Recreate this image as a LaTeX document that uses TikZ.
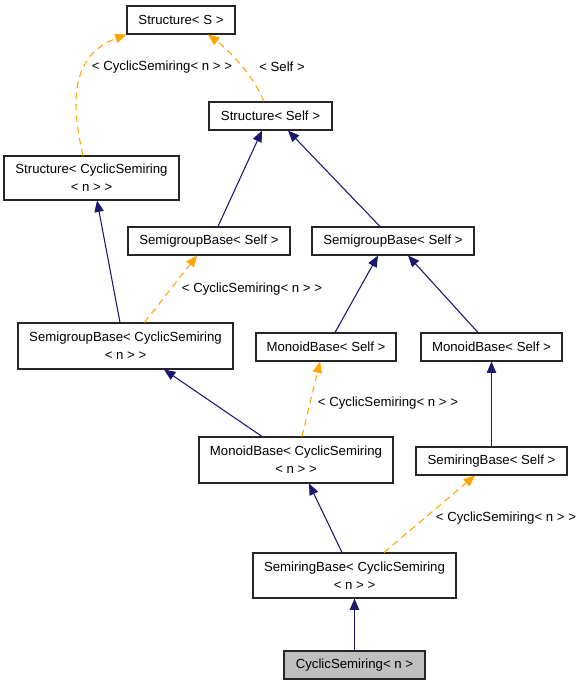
\documentclass[tikz,border=0pt]{standalone}
\usepackage{fontspec}
\newfontfamily\dox{Liberation Sans}
\usetikzlibrary{arrows.meta,calc}
\definecolor{edgeblue}{HTML}{191970}
\definecolor{edgeorange}{HTML}{FFA500}
\definecolor{leafgray}{HTML}{BFBFBF}
\tikzset{
  box/.style={draw=black!85, line width=0.8pt, fill=white, inner sep=0pt, align=center,
    font=\dox\fontsize{9.9}{13.5}\selectfont},
  lbl/.style={inner sep=0pt, font=\dox\fontsize{9.9}{13.5}\selectfont},
  inherit/.style={draw=edgeblue, line width=0.8pt, -{Triangle[length=8.5pt,width=7pt]}},
  templ/.style={draw=edgeorange, line width=0.8pt, dash pattern=on 5pt off 3.5pt,
    -{Triangle[length=8.5pt,width=7pt,fill=edgeorange]}}
}
\begin{document}
\begin{tikzpicture}[x=0.75pt,y=-0.75pt]
\fill[white] (0,0) rectangle (584,685);
\useasboundingbox (0,0) rectangle (584,685);
% nodes
\node[box, minimum width={108*0.75pt}, minimum height={28*0.75pt}] (sS) at (181,20) {Structure< S >};
\node[box, minimum width={123*0.75pt}, minimum height={28*0.75pt}] (sSelf) at (270.5,116) {Structure< Self >};
\node[box, minimum width={175*0.75pt}, minimum height={44*0.75pt}] (sCS) at (91.5,178) {Structure< CyclicSemiring\\< n > >};
\node[box, minimum width={162*0.75pt}, minimum height={28*0.75pt}] (sgL) at (209,241) {SemigroupBase< Self >};
\node[box, minimum width={162*0.75pt}, minimum height={28*0.75pt}] (sgR) at (393,241) {SemigroupBase< Self >};
\node[box, minimum width={215*0.75pt}, minimum height={46*0.75pt}] (sgCS) at (125.5,346) {SemigroupBase< CyclicSemiring\\< n > >};
\node[box, minimum width={140*0.75pt}, minimum height={28*0.75pt}] (mbM) at (326,347) {MonoidBase< Self >};
\node[box, minimum width={141*0.75pt}, minimum height={28*0.75pt}] (mbR) at (491.5,347) {MonoidBase< Self >};
\node[box, minimum width={194*0.75pt}, minimum height={46*0.75pt}] (mbCS) at (296,460) {MonoidBase< CyclicSemiring\\< n > >};
\node[box, minimum width={151*0.75pt}, minimum height={28*0.75pt}] (srSelf) at (491.5,461) {SemiringBase< Self >};
\node[box, minimum width={203*0.75pt}, minimum height={45*0.75pt}] (srCS) at (354.5,575.5) {SemiringBase< CyclicSemiring\\< n > >};
\node[box, fill=leafgray, minimum width={141*0.75pt}, minimum height={28*0.75pt}] (cs) at (354.5,665) {CyclicSemiring< n >};
% edge labels
\node[lbl] (l1) at (162,67) {< CyclicSemiring< n > >};
\node[lbl] (l2) at (282,67) {< Self >};
\node[lbl] (l3) at (252,289) {< CyclicSemiring< n > >};
\node[lbl] (l4) at (388,403) {< CyclicSemiring< n > >};
\node[lbl] (l5) at (506,518) {< CyclicSemiring< n > >};
% template edges
\draw[templ] ($(sCS.north)+(-8.5,0)$) .. controls (70,100) and (72,55) .. (sS.south west);
\draw[templ] ($(sSelf.north)+(-6.5,0)$) .. controls (255,80) and (235,55) .. ($(sS.south)+(27,0)$);
\draw[templ] ($(sgCS.north)+(19,0)$) -- ($(sgL.south)+(-12,0)$);
\draw[templ] ($(mbCS.north)+(6,0)$) -- ($(mbM.south)+(-6,0)$);
\draw[templ] ($(srCS.north)+(29.5,0)$) -- ($(srSelf.south)+(-16.5,0)$);
% inheritance edges
\draw[inherit] ($(sgL.north)+(9,0)$) -- ($(sSelf.south)+(-8.5,0)$);
\draw[inherit] ($(sgR.north)+(-13,0)$) -- ($(sSelf.south)+(17.5,0)$);
\draw[inherit] ($(sgCS.north)+(-5.5,0)$) -- ($(sCS.south)+(5.5,0)$);
\draw[inherit] ($(mbM.north)+(9,0)$) -- ($(sgR.south)+(-15,0)$);
\draw[inherit] ($(mbR.north)+(-13.5,0)$) -- ($(sgR.south)+(15,0)$);
\draw[inherit] ($(mbCS.north)+(-34,0)$) -- ($(sgCS.south)+(38.5,0)$);
\draw[inherit] (srSelf.north) -- (mbR.south);
\draw[inherit] ($(srCS.north)+(-12.5,0)$) -- ($(mbCS.south)+(13,0)$);
\draw[inherit] (cs.north) -- (srCS.south);
\end{tikzpicture}
\end{document}
